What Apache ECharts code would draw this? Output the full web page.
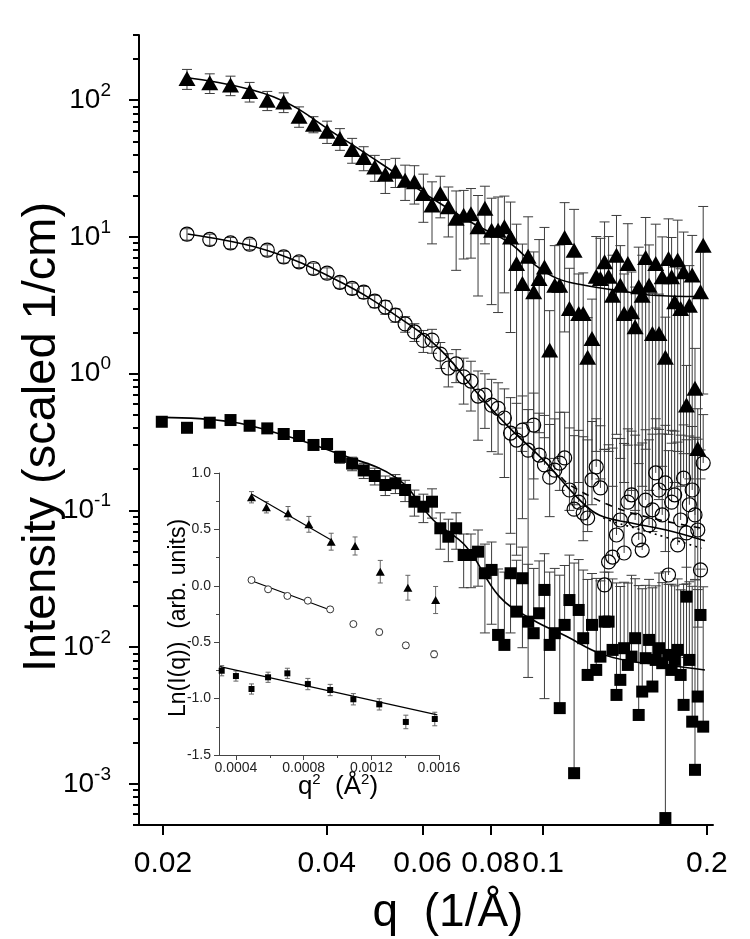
<!DOCTYPE html>
<html>
<head>
<meta charset="utf-8">
<script src="https://cdn.jsdelivr.net/npm/echarts@6/dist/echarts.min.js"></script>
<style>html,body{margin:0;padding:0;background:#fff}#c{width:750px;height:939px}</style>
</head>
<body>
<div id="c"></div>
<script>
// ---------- main chart data ----------
const qValues = [0.0199, 0.02214, 0.02438, 0.02662, 0.02886, 0.0311, 0.03334, 0.03558, 0.03782, 0.04006,
  0.0423, 0.04454, 0.04678, 0.04902, 0.05126, 0.0535, 0.05574, 0.05798, 0.06022, 0.06246,
  0.0647, 0.06694, 0.06918, 0.07142, 0.07366, 0.0759, 0.07814, 0.08038, 0.08262, 0.08486,
  0.0871, 0.08934, 0.09158, 0.09382, 0.09606, 0.0983, 0.10054, 0.10278, 0.10502, 0.10726,
  0.1095, 0.11174, 0.11398, 0.11622, 0.11846, 0.1207, 0.12294, 0.12518, 0.12742, 0.12966,
  0.1319, 0.13414, 0.13638, 0.13862, 0.14086, 0.1431, 0.14534, 0.14758, 0.14982, 0.15206,
  0.1543, 0.15654, 0.15878, 0.16102, 0.16326, 0.1655, 0.16774, 0.16998, 0.17222, 0.17446,
  0.1767, 0.17894, 0.18118, 0.18342, 0.18566, 0.1879, 0.19014, 0.19238, 0.19462, 0.19686, 0.1991];

const triangleI = [null, 144, 134, 129, 116, 100, 97.2, 76.4, 66.8, 59.3,
  52.5, 43.6, 38.1, 32.5, 28.8, 30.3, 26.0, 25.3, 20.8, 17.1,
  20.8, 16.6, 13.7, 14.4, 14.8, 11.9, 16.2, 11.2, 11.2, 11.9,
  10.0, 6.40, 4.57, 7.24, 3.97, 4.97, 6.04, 1.49, 4.44, 4.44,
  9.92, 3.00, 8.01, 2.76, 2.76, 1.32, 1.81, 5.17, 4.97, 6.58,
  5.17, 3.75, 7.36, 4.44, 2.76, 6.40, 2.84, 2.20, 4.32, 3.75,
  7.08, 4.44, 1.97, 6.40, 1.97, 5.11, 1.32, 6.96, 5.11, 3.36,
  6.77, 3.00, 5.56, 0.589, 3.17, 5.26, 0.781, 0.284, 3.97, 8.71, null];
const triangleErr = [null, 24, 22, 21, 19, 16, 16, 13, 9, 11,
  9.5, 9, 7.6, 7, 8, 7.3, 7.5, 7.9, 8, 8.2,
  7, 6.6, 8, 7.5, 7.8, 8.2, 7.3, 8, 8.4, 8,
  8, 6.0, 4.3, 6.8, 3.8, 4.6, 5.7, 1.4, 4.2, 4.3,
  7.9, 2.9, 7.9, 2.6, 2.7, 1.25, 1.7, 4.9, 4.8, 6.3,
  4.9, 3.6, 7.0, 4.2, 2.6, 6.1, 2.7, 2.1, 4.1, 3.6,
  6.8, 4.3, 1.9, 6.0, 1.85, 4.9, 1.27, 6.6, 4.8, 3.2,
  6.5, 2.85, 5.3, 0.56, 3.0, 5.0, 0.75, 0.27, 3.8, 8.0, null];

const circleI = [null, 10.48, 9.59, 9.05, 8.86, 8.01, 7.15, 6.58, 5.88, 5.44,
  4.66, 4.20, 3.95, 3.39, 3.07, 2.68, 2.31, 2.02, 1.75, 1.76,
  1.39, 1.10, 1.18, 0.949, 0.883, 0.686, 0.698, 0.589, 0.558, 0.474,
  0.368, 0.327, 0.387, 0.276, 0.421, 0.254, 0.215, 0.175, 0.197, 0.222,
  0.242, 0.141, 0.102, 0.115, 0.0957, 0.088, 0.167, 0.208, 0.146, 0.0285,
  0.042, 0.0456, 0.0661, 0.0851, 0.0488, 0.115, 0.130, 0.0851, 0.0608, 0.0513,
  0.119, 0.0782, 0.101, 0.188, 0.141, 0.0926, 0.159, 0.0337, 0.115, 0.130,
  0.0559, 0.0851, 0.172, 0.0684, 0.110, 0.141, 0.0926, 0.0719, 0.0367, 0.222, null];
const circleErr = [null, 1.0, 0.9, 0.85, 0.8, 0.75, 0.7, 0.6, 0.55, 0.5,
  0.45, 0.4, 0.4, 0.35, 0.35, 0.3, 0.3, 0.3, 0.32, 0.35,
  0.3, 0.3, 0.32, 0.35, 0.35, 0.36, 0.3, 0.32, 0.3, 0.3,
  0.3, 0.28, 0.3, 0.27, 0.3, 0.26, 0.28, 0.25, 0.27, 0.3,
  0.28, 0.26, 0.25, 0.27, 0.25, 0.24, 0.28, 0.26, 0.27, 0.25,
  0.26, 0.24, 0.27, 0.25, 0.26, 0.28, 0.25, 0.27, 0.24, 0.26,
  0.27, 0.25, 0.26, 0.28, 0.25, 0.27, 0.26, 0.24, 0.27, 0.25,
  0.26, 0.27, 0.25, 0.26, 0.24, 0.27, 0.25, 0.26, 0.24, 0.28, null];

const squareI = [0.445, 0.402, 0.438, 0.458, 0.416, 0.398, 0.362, 0.350, 0.301, 0.306,
  0.246, 0.220, 0.196, 0.1785, 0.1534, 0.1578, 0.141, 0.1158, 0.1064, 0.1158,
  0.074, 0.0642, 0.074, 0.0472, 0.0472, 0.0499, 0.0347, 0.0367, 0.01228, 0.01038,
  0.0347, 0.01818, 0.0319, 0.01536, 0.01264, 0.01769, 0.0262, 0.01038, 0.01264, 0.00358,
  0.01454, 0.0221, 0.001197, 0.0187, 0.01162, 0.00626, 0.01454, 0.00681, 0.00852, 0.01536,
  0.01536, 0.00954, 0.00447, 0.00576, 0.00982, 0.00741, 0.00852, 0.01162, 0.00319, 0.00473,
  0.0083, 0.01129, 0.00515, 0.00806, 0.00982, 0.00763, 0.000562, 0.00877, 0.00681, 0.00806,
  0.00954, 0.00626, 0.00378, 0.0234, 0.00806, 0.00285, 0.001266, 0.00435, 0.01719, 0.00262, null];
const squareErr = [0.02, 0.02, 0.02, 0.02, 0.02, 0.02, 0.02, 0.02, 0.02, 0.02,
  0.025, 0.025, 0.025, 0.025, 0.025, 0.025, 0.025, 0.025, 0.025, 0.028,
  0.022, 0.022, 0.022, 0.02, 0.02, 0.022, 0.022, 0.022, 0.025, 0.025,
  0.022, 0.025, 0.022, 0.025, 0.025, 0.025, 0.022, 0.025, 0.025, 0.03,
  0.025, 0.025, 0.04, 0.025, 0.025, 0.025, 0.02, 0.025, 0.022, 0.02,
  0.02, 0.022, 0.025, 0.022, 0.02, 0.022, 0.025, 0.02, 0.025, 0.022,
  0.02, 0.02, 0.022, 0.02, 0.025, 0.022, 0.035, 0.02, 0.022, 0.02,
  0.022, 0.02, 0.025, 0.015, 0.022, 0.025, 0.03, 0.022, 0.02, 0.025, null];

// fit curves (q, I)
const fitTriQ = [0.0222, 0.0319, 0.0423, 0.053, 0.0619, 0.0745, 0.0869, 0.0958, 0.1058, 0.1184, 0.1422, 0.159, 0.194];
const fitTriI = [146, 106, 54, 30, 19.6, 12.5, 9.0, 6.4, 5.0, 4.45, 3.97, 3.75, 3.67];
const fitCircQ = [0.0222, 0.031, 0.0423, 0.0535, 0.0647, 0.0757, 0.0868, 0.100, 0.1168, 0.127, 0.146, 0.1684, 0.1983];
const fitCircI = [10.5, 8.0, 4.7, 2.68, 1.5, 0.72, 0.40, 0.234, 0.119, 0.092, 0.0805, 0.072, 0.060];
const fitCircDashQ = [0.108, 0.1118, 0.1345, 0.159, 0.1955];
const fitCircDashI = [0.175, 0.1535, 0.1064, 0.0875, 0.074];
const fitCircDotQ = [0.129, 0.1345, 0.159, 0.1955];
const fitCircDotI = [0.088, 0.0827, 0.068, 0.0528];
const fitSqQ = [0.0199, 0.0266, 0.0333, 0.0418, 0.0538, 0.0628, 0.0722, 0.0831, 0.0958, 0.1103, 0.127, 0.146, 0.1684, 0.1983];
const fitSqI = [0.479, 0.445, 0.356, 0.2615, 0.172, 0.085, 0.0543, 0.0234, 0.0158, 0.012, 0.009, 0.00785, 0.0074, 0.0068];

// axes
const X_RANGE = [0.01807, 0.2052];
const Y_RANGE = [5e-4, 300];
const X_TICKS = [0.02, 0.04, 0.06, 0.08, 0.1, 0.2];
const X_TICK_LABELS = ['0.02', '0.04', '0.06', '0.08', '0.1', '0.2'];
const Y_TICK_EXPONENTS = [-3, -2, -1, 0, 1, 2];
const Y_MINOR_MULTIPLIERS = [2, 3, 4, 5, 6, 7, 8, 9];

// ---------- inset data ----------
const insetTriQ2 = [0.000492, 0.00058, 0.000708, 0.000831, 0.000963, 0.001104, 0.001253, 0.001416, 0.00158];
const insetTriLn = [0.785, 0.696, 0.643, 0.545, 0.391, 0.353, 0.125, -0.017, -0.126];
const insetTriErr = [0.05, 0.05, 0.06, 0.07, 0.075, 0.08, 0.1, 0.11, 0.12];
const insetCircQ2 = [0.000492, 0.00059, 0.000704, 0.000825, 0.000957, 0.001094, 0.001247, 0.001404, 0.001571];
const insetCircLn = [0.051, -0.031, -0.09, -0.132, -0.209, -0.339, -0.41, -0.528, -0.607];
const insetCircErr = [0.015, 0.015, 0.015, 0.015, 0.02, 0.02, 0.025, 0.025, 0.03];
const insetSqQ2 = [0.000316, 0.0004, 0.000492, 0.00059, 0.000704, 0.000825, 0.000957, 0.001094, 0.001247, 0.001404, 0.001575];
const insetSqLn = [-0.753, -0.8, -0.915, -0.811, -0.776, -0.871, -0.924, -1.006, -1.051, -1.207, -1.181];
const insetSqErr = [0.045, 0.045, 0.045, 0.045, 0.045, 0.05, 0.05, 0.05, 0.05, 0.06, 0.06];
const insetFitTriQ2 = [0.000492, 0.000963];
const insetFitTriLn = [0.814, 0.406];
const insetFitCircQ2 = [0.000492, 0.000957];
const insetFitCircLn = [0.045, -0.215];
const insetFitSqQ2 = [0.000306, 0.00159];
const insetFitSqLn = [-0.717, -1.145];

const INSET_X_RANGE = [0.0003, 0.0016];
const INSET_Y_RANGE = [-1.5, 1.0];
const INSET_X_TICKS = [0.0004, 0.0008, 0.0012, 0.0016];
const INSET_X_LABELS = ['0.0004', '0.0008', '0.0012', '0.0016'];
const INSET_X_MINOR = [0.0006, 0.0010, 0.0014];
const INSET_Y_TICKS = [-1.5, -1.0, -0.5, 0.0, 0.5, 1.0];
const INSET_Y_MINOR = [-1.25, -0.75, -0.25, 0.25, 0.75];

// ---------- build ----------
const L = Math.log10;
const FONT = '"Liberation Sans", Arial, Helvetica, sans-serif';

function logPts(xs, ys) {
  const out = [];
  for (let i = 0; i < xs.length; i++) if (ys[i] != null) out.push([L(xs[i]), L(ys[i])]);
  return out;
}
function logErr(xs, ys, es) {
  const out = [];
  for (let i = 0; i < xs.length; i++) {
    if (ys[i] == null) continue;
    const lo = ys[i] - es[i];
    out.push([L(xs[i]), L(ys[i]), L(ys[i] + es[i]), lo > 0 ? L(lo) : L(ys[i]), lo > 0 ? 1 : 0]);
  }
  return out;
}
function linPts(xs, ys) { return xs.map((x, i) => [x, ys[i]]); }
function linErr(xs, ys, es) { return xs.map((x, i) => [x, ys[i], ys[i] + es[i], ys[i] - es[i], 1]); }

function makeErr(capHalf, color) {
  return function (params, api) {
    const x = api.value(0), y = api.value(1), hi = api.value(2), lo = api.value(3), has = api.value(4);
    const p = api.coord([x, y]), ph = api.coord([x, hi]), pl = api.coord([x, lo]);
    const st = { stroke: color, lineWidth: 1 };
    const ch = [
      { type: 'line', shape: { x1: p[0], y1: ph[1], x2: p[0], y2: pl[1] }, style: st },
      { type: 'line', shape: { x1: p[0] - capHalf, y1: ph[1], x2: p[0] + capHalf, y2: ph[1] }, style: st }
    ];
    if (has) ch.push({ type: 'line', shape: { x1: p[0] - capHalf, y1: pl[1], x2: p[0] + capHalf, y2: pl[1] }, style: st });
    return { type: 'group', children: ch };
  };
}

const yMajor = Y_TICK_EXPONENTS.slice();
const yMin = L(Y_RANGE[0]) - 1e-6, yMax = L(Y_RANGE[1]) + 1e-6;
const yMinor = [];
for (let e = -4; e <= 2; e++) {
  for (const m of Y_MINOR_MULTIPLIERS) {
    const v = L(m * Math.pow(10, e));
    if (v >= yMin && v <= yMax) yMinor.push(v);
  }
}
const xMajor = X_TICKS.map(L);

function xLabel(v) {
  for (let i = 0; i < X_TICKS.length; i++) if (Math.abs(L(X_TICKS[i]) - v) < 1e-6) return X_TICK_LABELS[i];
  return '';
}
function insetXLabel(v) {
  for (let i = 0; i < INSET_X_TICKS.length; i++) if (Math.abs(INSET_X_TICKS[i] - v) < 1e-9) return INSET_X_LABELS[i];
  return '';
}

const black = '#000';
const errColor = '#3c3c3c';

const option = {
  animation: false,
  backgroundColor: '#fff',
  grid: [
    { left: 139, top: 35, width: 574, height: 790, containLabel: false, outerBoundsMode: 'none' },
    { left: 219, top: 473, width: 220, height: 282, containLabel: false, outerBoundsMode: 'none' }
  ],
  xAxis: [
    {
      gridIndex: 0, type: 'value', min: L(X_RANGE[0]), max: L(X_RANGE[1]),
      splitLine: { show: false },
      axisLine: { show: true, onZero: false, lineStyle: { color: black, width: 2 } },
      axisTick: { show: true, customValues: xMajor, length: 10, lineStyle: { color: black, width: 2 } },
      axisLabel: { show: true, customValues: xMajor, formatter: xLabel, margin: 24, fontSize: 30, color: black, fontFamily: FONT }
    },
    {
      gridIndex: 1, type: 'value', min: INSET_X_RANGE[0], max: INSET_X_RANGE[1],
      splitLine: { show: false },
      axisLine: { show: true, onZero: false, lineStyle: { color: '#444', width: 1 } },
      axisTick: { show: true, customValues: INSET_X_TICKS, length: 5, lineStyle: { color: '#444', width: 1 } },
      axisLabel: { show: true, customValues: INSET_X_TICKS, formatter: insetXLabel, margin: 6, fontSize: 14, color: '#222', fontFamily: FONT }
    },
    {
      gridIndex: 1, type: 'value', position: 'bottom', min: INSET_X_RANGE[0], max: INSET_X_RANGE[1],
      splitLine: { show: false },
      axisLine: { show: false, onZero: false },
      axisTick: { show: true, customValues: INSET_X_MINOR, length: 3, lineStyle: { color: '#444', width: 1 } },
      axisLabel: { show: false }
    }
  ],
  yAxis: [
    {
      gridIndex: 0, type: 'value', position: 'left', min: yMin, max: yMax,
      splitLine: { show: false },
      axisLine: { show: true, onZero: false, lineStyle: { color: black, width: 2 } },
      axisTick: { show: true, customValues: yMajor, length: 10, lineStyle: { color: black, width: 2 } },
      axisLabel: {
        show: true, customValues: yMajor, margin: 28, color: black, fontFamily: FONT,
        formatter: v => '{b|10}{s|' + Math.round(v) + '}',
        rich: {
          b: { fontSize: 28, lineHeight: 38, fontFamily: FONT, color: black },
          s: { fontSize: 19, lineHeight: 19, verticalAlign: 'top', fontFamily: FONT, color: black }
        }
      }
    },
    {
      gridIndex: 0, type: 'value', position: 'left', min: yMin, max: yMax,
      splitLine: { show: false },
      axisLine: { show: false, onZero: false },
      axisTick: { show: true, customValues: yMinor, length: 6, lineStyle: { color: black, width: 2 } },
      axisLabel: { show: false }
    },
    {
      gridIndex: 1, type: 'value', position: 'left', min: INSET_Y_RANGE[0], max: INSET_Y_RANGE[1],
      splitLine: { show: false },
      axisLine: { show: true, onZero: false, lineStyle: { color: '#444', width: 1 } },
      axisTick: { show: true, customValues: INSET_Y_TICKS, length: 5, lineStyle: { color: '#444', width: 1 } },
      axisLabel: { show: true, customValues: INSET_Y_TICKS, formatter: v => v.toFixed(1), margin: 8, fontSize: 14, color: '#222', fontFamily: FONT }
    },
    {
      gridIndex: 1, type: 'value', position: 'left', min: INSET_Y_RANGE[0], max: INSET_Y_RANGE[1],
      splitLine: { show: false },
      axisLine: { show: false, onZero: false },
      axisTick: { show: true, customValues: INSET_Y_MINOR, length: 3, lineStyle: { color: '#444', width: 1 } },
      axisLabel: { show: false }
    }
  ],
  series: [
    { type: 'custom', name: 'errTri', xAxisIndex: 0, yAxisIndex: 0, clip: true, silent: true, z: 2,
      renderItem: makeErr(5, errColor), encode: { x: 0, y: 1 }, data: logErr(qValues, triangleI, triangleErr) },
    { type: 'custom', name: 'errCirc', xAxisIndex: 0, yAxisIndex: 0, clip: true, silent: true, z: 2,
      renderItem: makeErr(5, errColor), encode: { x: 0, y: 1 }, data: logErr(qValues, circleI, circleErr) },
    { type: 'custom', name: 'errSq', xAxisIndex: 0, yAxisIndex: 0, clip: true, silent: true, z: 2,
      renderItem: makeErr(5, errColor), encode: { x: 0, y: 1 }, data: logErr(qValues, squareI, squareErr) },
    { type: 'line', xAxisIndex: 0, yAxisIndex: 0, smooth: 0.4, showSymbol: false, silent: true, z: 3,
      lineStyle: { color: black, width: 1.6 }, data: logPts(fitTriQ, fitTriI) },
    { type: 'line', xAxisIndex: 0, yAxisIndex: 0, smooth: 0.4, showSymbol: false, silent: true, z: 3,
      lineStyle: { color: black, width: 1.6 }, data: logPts(fitCircQ, fitCircI) },
    { type: 'line', xAxisIndex: 0, yAxisIndex: 0, smooth: 0.4, showSymbol: false, silent: true, z: 3,
      lineStyle: { color: black, width: 1.6, type: [7, 6] }, data: logPts(fitCircDashQ, fitCircDashI) },
    { type: 'line', xAxisIndex: 0, yAxisIndex: 0, smooth: 0.4, showSymbol: false, silent: true, z: 3,
      lineStyle: { color: black, width: 1.6, type: [2, 4] }, data: logPts(fitCircDotQ, fitCircDotI) },
    { type: 'line', xAxisIndex: 0, yAxisIndex: 0, smooth: 0.4, showSymbol: false, silent: true, z: 3,
      lineStyle: { color: black, width: 1.6 }, data: logPts(fitSqQ, fitSqI) },
    { type: 'scatter', xAxisIndex: 0, yAxisIndex: 0, symbol: 'triangle', symbolSize: [17, 15], z: 4, silent: true,
      itemStyle: { color: black, opacity: 1 }, data: logPts(qValues, triangleI) },
    { type: 'scatter', xAxisIndex: 0, yAxisIndex: 0, symbol: 'circle', symbolSize: 14, z: 4, silent: true,
      itemStyle: { color: 'rgba(0,0,0,0)', borderColor: black, borderWidth: 1.2, opacity: 1 }, data: logPts(qValues, circleI) },
    { type: 'scatter', xAxisIndex: 0, yAxisIndex: 0, symbol: 'rect', symbolSize: 12, z: 4, silent: true,
      itemStyle: { color: black, opacity: 1 }, data: logPts(qValues, squareI) },

    { type: 'custom', xAxisIndex: 1, yAxisIndex: 2, clip: true, silent: true, z: 5,
      renderItem: makeErr(2.5, '#666'), encode: { x: 0, y: 1 }, data: linErr(insetTriQ2, insetTriLn, insetTriErr) },
    { type: 'custom', xAxisIndex: 1, yAxisIndex: 2, clip: true, silent: true, z: 5,
      renderItem: makeErr(2.5, '#666'), encode: { x: 0, y: 1 }, data: linErr(insetCircQ2, insetCircLn, insetCircErr) },
    { type: 'custom', xAxisIndex: 1, yAxisIndex: 2, clip: true, silent: true, z: 5,
      renderItem: makeErr(2.5, '#666'), encode: { x: 0, y: 1 }, data: linErr(insetSqQ2, insetSqLn, insetSqErr) },
    { type: 'line', xAxisIndex: 1, yAxisIndex: 2, showSymbol: false, silent: true, z: 6,
      lineStyle: { color: black, width: 1.2 }, data: linPts(insetFitTriQ2, insetFitTriLn) },
    { type: 'line', xAxisIndex: 1, yAxisIndex: 2, showSymbol: false, silent: true, z: 6,
      lineStyle: { color: black, width: 1.2 }, data: linPts(insetFitCircQ2, insetFitCircLn) },
    { type: 'line', xAxisIndex: 1, yAxisIndex: 2, showSymbol: false, silent: true, z: 6,
      lineStyle: { color: black, width: 1.2 }, data: linPts(insetFitSqQ2, insetFitSqLn) },
    { type: 'scatter', xAxisIndex: 1, yAxisIndex: 2, symbol: 'triangle', symbolSize: [9, 8], z: 7, silent: true,
      itemStyle: { color: black, opacity: 1 }, data: linPts(insetTriQ2, insetTriLn) },
    { type: 'scatter', xAxisIndex: 1, yAxisIndex: 2, symbol: 'circle', symbolSize: 7, z: 7, silent: true,
      itemStyle: { color: '#fff', borderColor: '#333', borderWidth: 1, opacity: 1 }, data: linPts(insetCircQ2, insetCircLn) },
    { type: 'scatter', xAxisIndex: 1, yAxisIndex: 2, symbol: 'rect', symbolSize: 6, z: 7, silent: true,
      itemStyle: { color: black, opacity: 1 }, data: linPts(insetSqQ2, insetSqLn) }
  ],
  graphic: [
    { type: 'text', x: 42, y: 437, rotation: Math.PI / 2, silent: true,
      style: { text: 'Intensity (scaled 1/cm)', fontSize: 47, fontFamily: FONT, fill: black, textAlign: 'center', textVerticalAlign: 'middle' } },
    { type: 'text', x: 448, y: 913, silent: true,
      style: { text: 'q  (1/Å)', fontSize: 46, fontFamily: FONT, fill: black, textAlign: 'center', textVerticalAlign: 'middle' } },
    { type: 'text', x: 179, y: 618, rotation: Math.PI / 2, silent: true,
      style: { text: 'Ln(I(q))  (arb. units)', fontSize: 23, fontFamily: FONT, fill: black, textAlign: 'center', textVerticalAlign: 'middle' } },
    { type: 'text', x: 338, y: 787, silent: true,
      style: { text: '{a|q}{s|2}{a|  (Å}{s|2}{a|)}', fontFamily: FONT, fill: black, textAlign: 'center', textVerticalAlign: 'middle',
        rich: { a: { fontSize: 26, lineHeight: 30, fontFamily: FONT, fill: black }, s: { fontSize: 15, lineHeight: 15, verticalAlign: 'top', fontFamily: FONT, fill: black } } } }
  ]
};

const chart = echarts.init(document.getElementById('c'), null, { renderer: 'canvas', width: 750, height: 939 });
chart.setOption(option);
</script>
</body>
</html>
